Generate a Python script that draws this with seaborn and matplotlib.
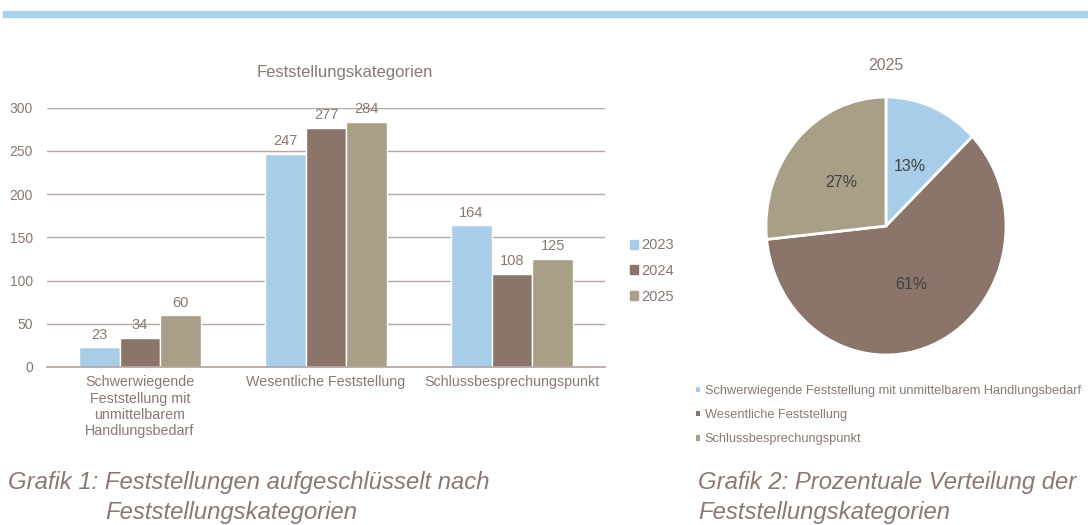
import matplotlib
matplotlib.use("Agg")
import matplotlib.pyplot as plt
from matplotlib.patches import Rectangle
import seaborn as sns
import pandas as pd

categories = ["Schwerwiegende Feststellung mit unmittelbarem Handlungsbedarf",
              "Wesentliche Feststellung",
              "Schlussbesprechungspunkt"]
tick_labels = ["Schwerwiegende\nFeststellung mit\nunmittelbarem\nHandlungsbedarf",
               "Wesentliche Feststellung",
               "Schlussbesprechungspunkt"]
years = ["2023", "2024", "2025"]
values_2023 = [23, 247, 164]
values_2024 = [34, 277, 108]
values_2025 = [60, 284, 125]
yticks = [0, 50, 100, 150, 200, 250, 300]

colors = ["#a8cde8", "#8b756b", "#a99f87"]
text_color = "#8a7872"
grid_color = "#b5a6a0"

sns.set_theme(style="white")
plt.rcParams["font.family"] = ["Liberation Sans", "DejaVu Sans"]

rows = []
for y, vals in zip(years, [values_2023, values_2024, values_2025]):
    for c, v in zip(categories, vals):
        rows.append({"cat": c, "year": y, "val": v})
df = pd.DataFrame(rows)

W, H = 1088, 525
fig = plt.figure(figsize=(W / 100, H / 100), dpi=100)

# top band
fig.patches.append(Rectangle((3 / W, 1 - 17 / H), 1 - 3 / W, 6 / H,
                             transform=fig.transFigure, color="#a9d2eb", zorder=0))

# bar chart
ax = fig.add_axes([47 / W, 1 - 367 / H, (605 - 47) / W, (367 - 107.7) / H])
sns.barplot(data=df, x="cat", y="val", hue="year", palette=colors, width=0.66,
            saturation=1, ax=ax, legend=False, order=categories, hue_order=years)
ax.set_ylim(0, 300)
ax.set_xlim(-0.5, 2.5)
ax.set_yticks(yticks)
ax.set_xticks(range(len(categories)))
ax.set_xticklabels(tick_labels, fontsize=10.3, color=text_color, linespacing=1.2)
ax.tick_params(axis="y", labelsize=10, labelcolor=text_color, length=0, pad=10)
ax.tick_params(axis="x", length=0, pad=6)
ax.yaxis.grid(True, color=grid_color, linewidth=1)
ax.set_axisbelow(True)
for s in ["top", "right", "left"]:
    ax.spines[s].set_visible(False)
ax.spines["bottom"].set_color(grid_color)
ax.set_xlabel("")
ax.set_ylabel("")
for cont in ax.containers:
    ax.bar_label(cont, padding=4, fontsize=10.5, color=text_color)

fig.text(345 / W, 1 - 73 / H, "Feststellungskategorien", ha="center", va="center",
         fontsize=12, color=text_color)

handles = [Rectangle((0, 0), 1, 1, color=c) for c in colors]
fig.legend(handles, years, loc="center left", bbox_to_anchor=(630 / W, 1 - 271 / H),
           frameon=False, fontsize=10.5, handlelength=0.55, handleheight=0.55,
           handletextpad=0.25, labelspacing=0.8, labelcolor=text_color,
           borderaxespad=0, borderpad=0)

# pie chart
pie_vals = values_2025
axp = fig.add_axes([766 / W, 1 - 355 / H, 240 / W, 258 / H])
wedges, _, autotexts = axp.pie(pie_vals, colors=colors, startangle=90, counterclock=False,
                               autopct=lambda p: f"{p:.0f}%", pctdistance=0.5,
                               wedgeprops=dict(edgecolor="white", linewidth=2),
                               textprops=dict(fontsize=11.5, color="#404040"))
axp.set_aspect("auto")
axp.set_xlim(-1, 1)
axp.set_ylim(-1, 1)
fig.text(886 / W, 1 - 66 / H, "2025", ha="center", va="center",
         fontsize=11.5, color=text_color)

pie_handles = [Rectangle((0, 0), 1, 1, facecolor=c, edgecolor="none") for c in colors]
fig.legend(pie_handles, categories, loc="upper left", bbox_to_anchor=(696 / W, 1 - 385 / H),
           frameon=False, fontsize=9.2, handlelength=0.32, handleheight=0.32,
           handletextpad=0.35, labelspacing=0.95, labelcolor=text_color,
           borderaxespad=0, borderpad=0)

# captions
cap_kw = dict(fontsize=17.2, style="italic", color=text_color, va="center", ha="left")
fig.text(8 / W, 1 - 483 / H, "Grafik 1: Feststellungen aufgeschlüsselt nach", **cap_kw)
fig.text(105 / W, 1 - 513 / H, "Feststellungskategorien", **cap_kw)
fig.text(698 / W, 1 - 483 / H, "Grafik 2: Prozentuale Verteilung der", **cap_kw)
fig.text(698 / W, 1 - 513 / H, "Feststellungskategorien", **cap_kw)

fig.savefig("out.png", dpi=100)
